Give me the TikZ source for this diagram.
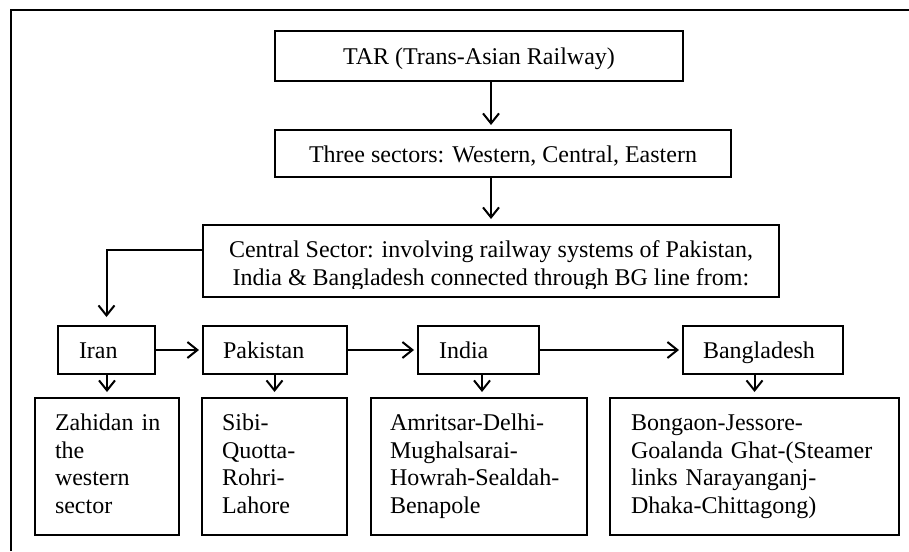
\documentclass[tikz,border=0pt]{standalone}
\usepackage{fontspec}
\setmainfont{Liberation Serif}
\usetikzlibrary{arrows.meta,calc}
\tikzset{
  box/.style={draw, line width=2pt, inner sep=0pt},
  txt/.style={font=\fontsize{24}{28}\selectfont},
  btxt/.style={font=\fontsize{24}{27.5}\selectfont},
  onel/.style={box, txt, text height=17pt, text depth=0pt},
  cbox/.style={box, txt, align=left, minimum height=48pt, text height=16pt, text depth=0pt},
  bbox/.style={box, btxt, align=left, minimum height=137pt},
  arr/.style={line width=2pt, -{Straight Barb[length=10pt,width=16pt,line width=2pt]}},
  frame/.style={line width=2pt}
}
\begin{document}
\begin{tikzpicture}[x=1pt,y=-1pt]
\useasboundingbox (0,0) rectangle (909,551);
\draw[frame] (11,551) -- (11,10) -- (909,10);

\node[onel, minimum width=408pt, minimum height=50pt] (tar) at (479,56) {TAR (Trans-Asian Railway)};
\node[onel, minimum width=456pt, minimum height=47pt] (three) at (503,153.5) {Three sectors: Western, Central, Eastern};
\node[box, minimum width=576pt, minimum height=72pt] (central) at (491,261) {};
\begin{scope}
  \clip (central.north west) rectangle ([yshift=10pt]central.south east);
  \node[txt, align=center, inner sep=0pt, anchor=north] (ctext) at ([yshift=-13.4pt]central.north)
    {\strut Central Sector: involving railway systems of Pakistan,\\India \& Bangladesh connected through BG line from:};
\end{scope}

\node[cbox, text width=55pt, inner xsep=21pt] (iran) at (106.5,350) {Iran};
\node[cbox, text width=104pt, inner xsep=20pt] (pak) at (275,350) {Pakistan};
\node[cbox, text width=79pt, inner xsep=21pt] (ind) at (478.5,350) {India};
\node[cbox, text width=120pt, inner xsep=20pt] (ban) at (763,350) {Bangladesh};

\node[bbox, text width=110pt, inner xsep=17pt] (zah) at (107,466.5) {\strut\hspace{3pt}Zahidan in\\\hspace*{3pt}the\\\hspace*{3pt}western\\\hspace*{3pt}sector\strut};
\node[bbox, text width=105pt, inner xsep=20pt] (sibi) at (274.5,466.5) {\strut Sibi-\\Quotta-\\Rohri-\\Lahore\strut};
\node[bbox, text width=178pt, inner xsep=19pt] (amr) at (479,466.5) {\strut Amritsar-Delhi-\\Mughalsarai-\\Howrah-Sealdah-\\Benapole\strut};
\node[bbox, text width=251pt, inner xsep=19pt] (bon) at (754.5,466.5) {\strut\hspace{2pt}Bongaon-Jessore-\\\hspace*{2pt}Goalanda Ghat-(Steamer\\\hspace*{2pt}links Narayanganj-\\\hspace*{2pt}Dhaka-Chittagong)\strut};

\draw[arr, shorten >=4pt] (tar.south -| central.north) -- (three.north -| central.north);
\draw[arr, shorten >=5pt] (three.south -| central.north) -- (central.north);
\draw[arr, shorten >=8pt] ([yshift=11pt]central.west) -| (iran.north);
\draw[arr, shorten >=3pt] (iran.east) -- (pak.west);
\draw[arr, shorten >=3pt] (pak.east) -- (ind.west);
\draw[arr, shorten >=3pt] (ind.east) -- (ban.west);
\draw[arr, shorten >=5pt] (zah.north |- iran.south) -- (zah.north);
\draw[arr, shorten >=5pt] (sibi.north |- pak.south) -- (sibi.north);
\draw[arr, shorten >=5pt] ([xshift=3pt]amr.north |- ind.south) -- ([xshift=3pt]amr.north);
\draw[arr, shorten >=5pt] (bon.north |- ban.south) -- (bon.north);
\end{tikzpicture}
\end{document}
